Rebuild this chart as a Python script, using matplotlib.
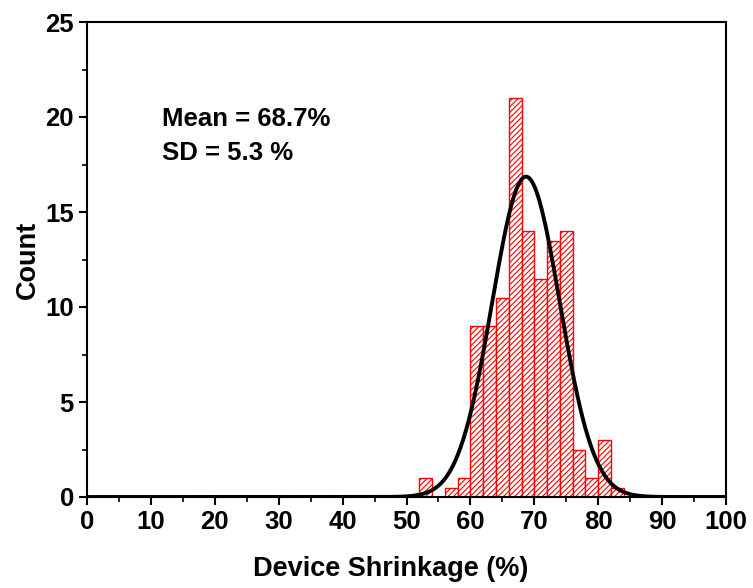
import numpy as np
import matplotlib
matplotlib.use("Agg")
import matplotlib.pyplot as plt
from matplotlib.ticker import MultipleLocator

plt.rcParams['font.family'] = ['Liberation Sans', 'DejaVu Sans']
plt.rcParams['font.weight'] = 'bold'
plt.rcParams['hatch.color'] = 'red'
plt.rcParams['hatch.linewidth'] = 0.8

# histogram bins (2 % wide) and counts
bin_left = [52, 54, 56, 58, 60, 62, 64, 66, 68, 70, 72, 74, 76, 78, 80, 82]
counts = [1, 0, 0.5, 1, 9, 9, 10.5, 21, 14, 11.5, 13.5, 14, 2.5, 1, 3, 0.5]
bin_width = 2

mean_val = 68.7
sd_val = 5.3

fig = plt.figure(figsize=(7.53, 5.88), dpi=100)
ax = fig.add_axes([87 / 753, 91 / 588, 639 / 753, 475 / 588])

ax.bar(bin_left, counts, width=bin_width, align='edge', facecolor='white',
       edgecolor='red', linewidth=1.0, hatch='//////')

# normal fit scaled to the histogram area
total = sum(counts) * bin_width
xs = np.linspace(0, 100, 800)
ys = total / (sd_val * np.sqrt(2 * np.pi)) * np.exp(-0.5 * ((xs - mean_val) / sd_val) ** 2)
ax.plot(xs, ys, color='black', lw=2.8)

ax.set_xlim(0, 100)
ax.set_ylim(0, 25)
ax.xaxis.set_major_locator(MultipleLocator(10))
ax.xaxis.set_minor_locator(MultipleLocator(5))
ax.yaxis.set_major_locator(MultipleLocator(5))
ax.yaxis.set_minor_locator(MultipleLocator(2.5))
ax.tick_params(which='major', direction='out', length=6, width=1.5, labelsize=18.5)
ax.tick_params(which='minor', direction='out', length=3.5, width=1.2)
for lab in ax.get_xticklabels() + ax.get_yticklabels():
    lab.set_fontweight('bold')
for s in ax.spines.values():
    s.set_linewidth(1.5)

ax.set_xlabel('Device Shrinkage (%)', fontsize=19.5, fontweight='bold')
ax.xaxis.set_label_coords(0.476, -0.125)
ax.set_ylabel('Count', fontsize=19.5, fontweight='bold', labelpad=3)

ax.text(11.7, 19.9, 'Mean = 68.7%', fontsize=18.5, fontweight='bold', va='center')
ax.text(11.7, 18.1, 'SD = 5.3 %', fontsize=18.5, fontweight='bold', va='center')

fig.savefig('out.png', dpi=100)
